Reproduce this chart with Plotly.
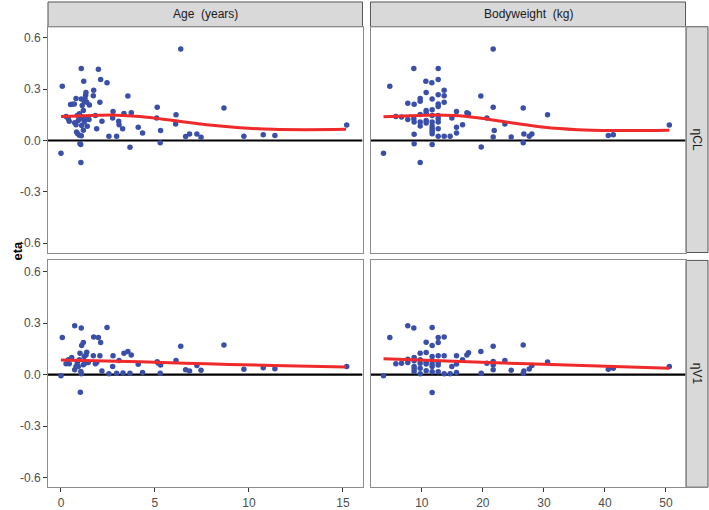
import plotly.graph_objects as go

# ---------------- data ----------------
age_cl_x = [0.00, 0.07, 0.27, 0.39, 0.44, 0.51, 0.60, 0.71, 0.80, 0.73, 0.80, 0.87, 0.92, 0.83, 0.89, 0.98,
            1.08, 1.01, 1.05, 1.06, 1.08, 1.08, 1.13, 1.19, 1.21, 1.24, 1.28, 1.31, 1.33, 1.37, 1.51, 1.49,
            1.40, 1.19, 1.10, 1.01, 0.98, 1.15, 1.24, 1.28, 1.74, 1.72, 1.83, 1.90, 1.99, 2.07, 2.11, 2.18,
            2.45, 2.55, 2.77, 2.75, 2.96, 3.07, 3.09, 3.28, 3.35, 3.56, 3.67, 3.74, 4.11, 4.34, 5.12, 5.09,
            5.30, 5.28, 6.12, 6.10, 6.37, 6.63, 6.84, 7.23, 7.45, 8.67, 9.73, 10.76, 11.38, 15.20]
age_cl_y = [-0.075, 0.317, 0.140, 0.127, 0.113, 0.210, 0.212, 0.213, 0.246, 0.104, 0.092, 0.146, 0.117, 0.050,
            0.040, 0.031, 0.027, -0.017, -0.023, -0.129, 0.421, 0.242, 0.204, 0.175, 0.346, 0.229, 0.242,
            0.265, 0.281, 0.223, 0.208, 0.123, 0.083, 0.060, 0.088, 0.127, 0.156, 0.137, 0.108, 0.127, 0.294,
            0.262, 0.146, 0.069, 0.417, 0.223, 0.356, 0.113, 0.337, 0.025, 0.169, 0.131, 0.025, 0.112, 0.092,
            0.069, 0.158, 0.260, -0.040, 0.162, 0.077, 0.044, 0.194, 0.131, 0.058, -0.013, 0.150, 0.096,
            0.535, 0.023, 0.038, 0.038, 0.019, 0.190, 0.025, 0.033, 0.029, 0.090]
age_cl_fit_x = [0.0, 1.54, 2.96, 4.2, 5.98, 7.75, 9.52, 11.29, 13.07, 15.16]
age_cl_fit_y = [0.140, 0.146, 0.148, 0.140, 0.117, 0.092, 0.075, 0.065, 0.063, 0.065]

wt_cl_x = [3.72, 4.75, 5.74, 6.67, 7.70, 7.70, 8.69, 8.74, 8.69, 8.74, 8.74, 8.74, 9.73, 9.73, 9.73, 9.73,
           9.73, 9.73, 10.66, 10.71, 10.71, 10.71, 10.71, 10.71, 11.64, 11.69, 11.69, 11.69, 11.69, 11.69,
           11.69, 11.69, 11.69, 11.69, 12.68, 12.68, 12.68, 12.68, 12.68, 12.68, 12.68, 12.68, 12.68, 12.68,
           13.66, 13.66, 13.66, 13.66, 14.64, 14.92, 15.68, 15.68, 15.68, 16.67, 17.38, 17.65, 19.67, 19.73,
           20.66, 21.69, 21.69, 21.86, 21.69, 23.61, 24.64, 26.61, 26.72, 26.61, 27.60, 28.03, 30.60, 40.55,
           41.37, 50.55]
wt_cl_y = [-0.075, 0.317, 0.140, 0.137, 0.217, 0.123, 0.421, 0.212, 0.127, 0.108, 0.037, -0.019, 0.246, 0.229,
           0.152, 0.108, 0.085, -0.129, 0.346, 0.281, 0.175, 0.162, 0.117, 0.102, 0.337, 0.242, 0.179, 0.146,
           0.108, 0.085, 0.069, 0.054, 0.040, -0.023, 0.421, 0.356, 0.267, 0.213, 0.198, 0.146, 0.127, 0.108,
           0.069, 0.025, 0.294, 0.262, 0.223, 0.025, 0.025, 0.131, 0.169, 0.077, 0.044, 0.092, 0.162, 0.156,
           0.260, -0.038, 0.131, 0.535, 0.194, 0.058, 0.021, 0.096, 0.021, 0.190, 0.038, -0.013, 0.025, 0.038,
           0.150, 0.029, 0.033, 0.090]
wt_cl_fit_x = [3.72, 10.93, 15.30, 19.13, 24.59, 30.05, 35.52, 40.98, 50.55]
wt_cl_fit_y = [0.138, 0.148, 0.146, 0.133, 0.104, 0.077, 0.063, 0.058, 0.060]

age_v_x = [0.00, 0.07, 0.27, 0.39, 0.44, 0.57, 0.73, 0.73, 0.80, 0.87, 0.92, 0.98, 1.01, 1.06, 1.08, 1.08,
           1.10, 1.19, 1.24, 1.33, 1.37, 1.28, 1.19, 1.03, 1.45, 1.74, 1.72, 1.83, 1.90, 1.99, 2.07, 2.11,
           2.18, 2.45, 2.55, 2.77, 2.75, 2.96, 3.09, 3.30, 3.35, 3.56, 3.67, 3.74, 4.11, 4.34, 5.12, 5.18,
           5.30, 5.28, 6.12, 6.37, 6.63, 6.84, 7.23, 7.45, 8.67, 9.73, 10.76, 11.38, 15.20]
age_v_y = [-0.006, 0.217, 0.063, 0.087, 0.063, 0.100, 0.285, 0.029, 0.048, 0.071, 0.048, 0.087, 0.125, 0.019,
           0.006, 0.271, 0.169, 0.187, 0.106, 0.115, 0.131, 0.067, 0.058, -0.102, 0.071, 0.219, 0.110, 0.063,
           0.071, 0.217, 0.110, 0.187, 0.021, 0.275, 0.006, 0.110, 0.048, 0.008, 0.083, 0.010, 0.125, 0.135,
           0.008, 0.115, 0.060, 0.012, 0.075, 0.067, 0.056, 0.008, 0.083, 0.165, 0.029, 0.021, 0.054, 0.025,
           0.173, 0.031, 0.040, 0.035, 0.048]
age_v_fit_x = [0.0, 4.2, 7.75, 11.29, 15.16]
age_v_fit_y = [0.085, 0.075, 0.063, 0.054, 0.044]

wt_v_x = [3.72, 4.75, 5.74, 6.67, 7.70, 7.70, 7.70, 8.69, 8.74, 8.74, 8.74, 8.74, 8.74, 9.73, 9.73, 9.73,
          9.73, 9.73, 10.71, 10.71, 10.71, 10.71, 10.71, 11.69, 11.69, 11.69, 11.69, 11.69, 11.69, 11.69,
          11.69, 12.68, 12.68, 12.68, 12.68, 12.68, 12.68, 13.66, 13.66, 13.66, 14.64, 14.92, 15.68, 15.68,
          15.68, 16.67, 17.38, 17.65, 19.67, 19.73, 20.66, 21.69, 21.69, 21.69, 21.69, 23.61, 24.64, 26.61,
          26.72, 26.61, 27.60, 28.03, 30.60, 40.55, 41.37, 50.55]
wt_v_y = [-0.006, 0.217, 0.063, 0.067, 0.285, 0.090, 0.071, 0.271, 0.100, 0.081, 0.048, 0.033, 0.019, 0.125,
          0.087, 0.067, 0.038, 0.006, 0.188, 0.129, 0.071, 0.062, 0.023, 0.275, 0.169, 0.106, 0.081, 0.062,
          0.048, 0.017, -0.104, 0.217, 0.187, 0.110, 0.071, 0.056, 0.017, 0.219, 0.110, 0.006, 0.006, 0.048,
          0.110, 0.062, 0.012, 0.087, 0.115, 0.127, 0.135, 0.008, 0.067, 0.165, 0.077, 0.056, 0.029, 0.083,
          0.025, 0.173, 0.021, 0.008, 0.033, 0.054, 0.073, 0.031, 0.037, 0.048]
wt_v_fit_x = [3.72, 27.3, 50.55]
wt_v_fit_y = [0.092, 0.063, 0.038]

col_labels = ["Age  (years)", "Bodyweight  (kg)"]
row_labels = ["ηCL", "ηV1"]
y_tickvals = [-0.6, -0.3, 0.0, 0.3, 0.6]
y_ticktext = ["-0.6", "-0.3", "0.0", "0.3", "0.6"]
age_ticks = [0, 5, 10, 15]
wt_ticks = [10, 20, 30, 40, 50]

# ---------------- layout geometry (pixels) ----------------
W, H = 709, 510
def px(x): return x / W
def py(y): return 1 - y / H

colL = (48, 362.5)
colR = (370.5, 685.5)
rowT = (27, 255)
rowB = (263, 492)
strip_top = (2, 27)
strip_right = (686, 708)

PT_COL = "#3A4FA8"
FIT_COL = "#EE2A2A"
BORDER = "#8C8C8C"
TICK = "#333333"
FONT = "Liberation Sans, Arial, sans-serif"

fig = go.Figure()

panels = [
    (age_cl_x, age_cl_y, age_cl_fit_x, age_cl_fit_y, "x", "y"),
    (wt_cl_x, wt_cl_y, wt_cl_fit_x, wt_cl_fit_y, "x2", "y2"),
    (age_v_x, age_v_y, age_v_fit_x, age_v_fit_y, "x3", "y3"),
    (wt_v_x, wt_v_y, wt_v_fit_x, wt_v_fit_y, "x4", "y4"),
]
xranges = {"x": [-0.69, 16.04], "x2": [1.59, 53.2], "x3": [-0.69, 16.04], "x4": [1.59, 53.2]}

for xs, ys, fx, fy, xa, ya in panels:
    fig.add_trace(go.Scatter(x=xranges[xa], y=[0, 0], xaxis=xa, yaxis=ya, mode="lines",
                             line=dict(color="black", width=2.2), hoverinfo="skip", showlegend=False))
    fig.add_trace(go.Scatter(x=xs, y=ys, xaxis=xa, yaxis=ya, mode="markers",
                             marker=dict(color=PT_COL, size=5.5, line=dict(width=0)), showlegend=False))
    fig.add_trace(go.Scatter(x=fx, y=fy, xaxis=xa, yaxis=ya, mode="lines",
                             line=dict(color=FIT_COL, width=3, shape="spline", smoothing=1.0),
                             showlegend=False))

yr = [-0.655, 0.665]
common_ax = dict(showgrid=False, zeroline=False, showline=True, mirror=True, linecolor=BORDER,
                 linewidth=1, tickcolor=TICK, ticklen=4, tickwidth=1,
                 tickfont=dict(family=FONT, size=12, color="#4D4D4D"))

def xax(dom, anchor, rng, ticks, show):
    d = dict(common_ax)
    d.update(domain=[px(dom[0]), px(dom[1])], anchor=anchor, range=rng,
             tickvals=ticks, ticktext=[str(t) for t in ticks],
             ticks="outside" if show else "", showticklabels=show)
    return d

def yax(dom, anchor, show):
    d = dict(common_ax)
    d.update(domain=[py(dom[1]), py(dom[0])], anchor=anchor, range=yr,
             tickvals=y_tickvals, ticktext=y_ticktext,
             ticks="outside" if show else "", showticklabels=show)
    return d

fig.update_layout(
    width=W, height=H, margin=dict(l=0, r=0, t=0, b=0),
    paper_bgcolor="white", plot_bgcolor="white", showlegend=False,
    font=dict(family=FONT),
    xaxis=xax(colL, "y", xranges["x"], age_ticks, False),
    xaxis2=xax(colR, "y2", xranges["x2"], wt_ticks, False),
    xaxis3=xax(colL, "y3", xranges["x3"], age_ticks, True),
    xaxis4=xax(colR, "y4", xranges["x4"], wt_ticks, True),
    yaxis=yax(rowT, "x", True),
    yaxis2=yax(rowT, "x2", False),
    yaxis3=yax(rowB, "x3", True),
    yaxis4=yax(rowB, "x4", False),
)

shapes = []
annotations = []
STRIP_FILL = "#D9D9D9"
STRIP_LINE = "#555555"
for (x0, x1), lab in zip([colL, colR], col_labels):
    shapes.append(dict(type="rect", xref="paper", yref="paper", x0=px(x0), x1=px(x1),
                       y0=py(strip_top[1]), y1=py(strip_top[0]),
                       fillcolor=STRIP_FILL, line=dict(color=STRIP_LINE, width=1), layer="below"))
    annotations.append(dict(xref="paper", yref="paper", x=px((x0 + x1) / 2), y=py((strip_top[0] + strip_top[1]) / 2),
                            text=lab, showarrow=False, xanchor="center", yanchor="middle",
                            font=dict(family=FONT, size=12, color="#1A1A1A")))
for (y0, y1), lab in zip([rowT, rowB], row_labels):
    shapes.append(dict(type="rect", xref="paper", yref="paper", x0=px(strip_right[0]), x1=px(strip_right[1]),
                       y0=py(y1), y1=py(y0),
                       fillcolor=STRIP_FILL, line=dict(color=STRIP_LINE, width=1), layer="below"))
    annotations.append(dict(xref="paper", yref="paper", x=px((strip_right[0] + strip_right[1]) / 2),
                            y=py((y0 + y1) / 2), text=lab, textangle=90, showarrow=False,
                            xanchor="center", yanchor="middle",
                            font=dict(family=FONT, size=12, color="#1A1A1A")))
annotations.append(dict(xref="paper", yref="paper", x=px(18), y=py(253), text="<b>eta</b>", textangle=-90,
                        showarrow=False, xanchor="center", yanchor="middle",
                        font=dict(family=FONT, size=13, color="black")))
fig.update_layout(shapes=shapes, annotations=annotations)

fig.write_html("out.html", config={"displayModeBar": False},
               post_script="document.body.style.margin='0';document.body.style.padding='0';"
                           "document.body.style.overflow='hidden';")
